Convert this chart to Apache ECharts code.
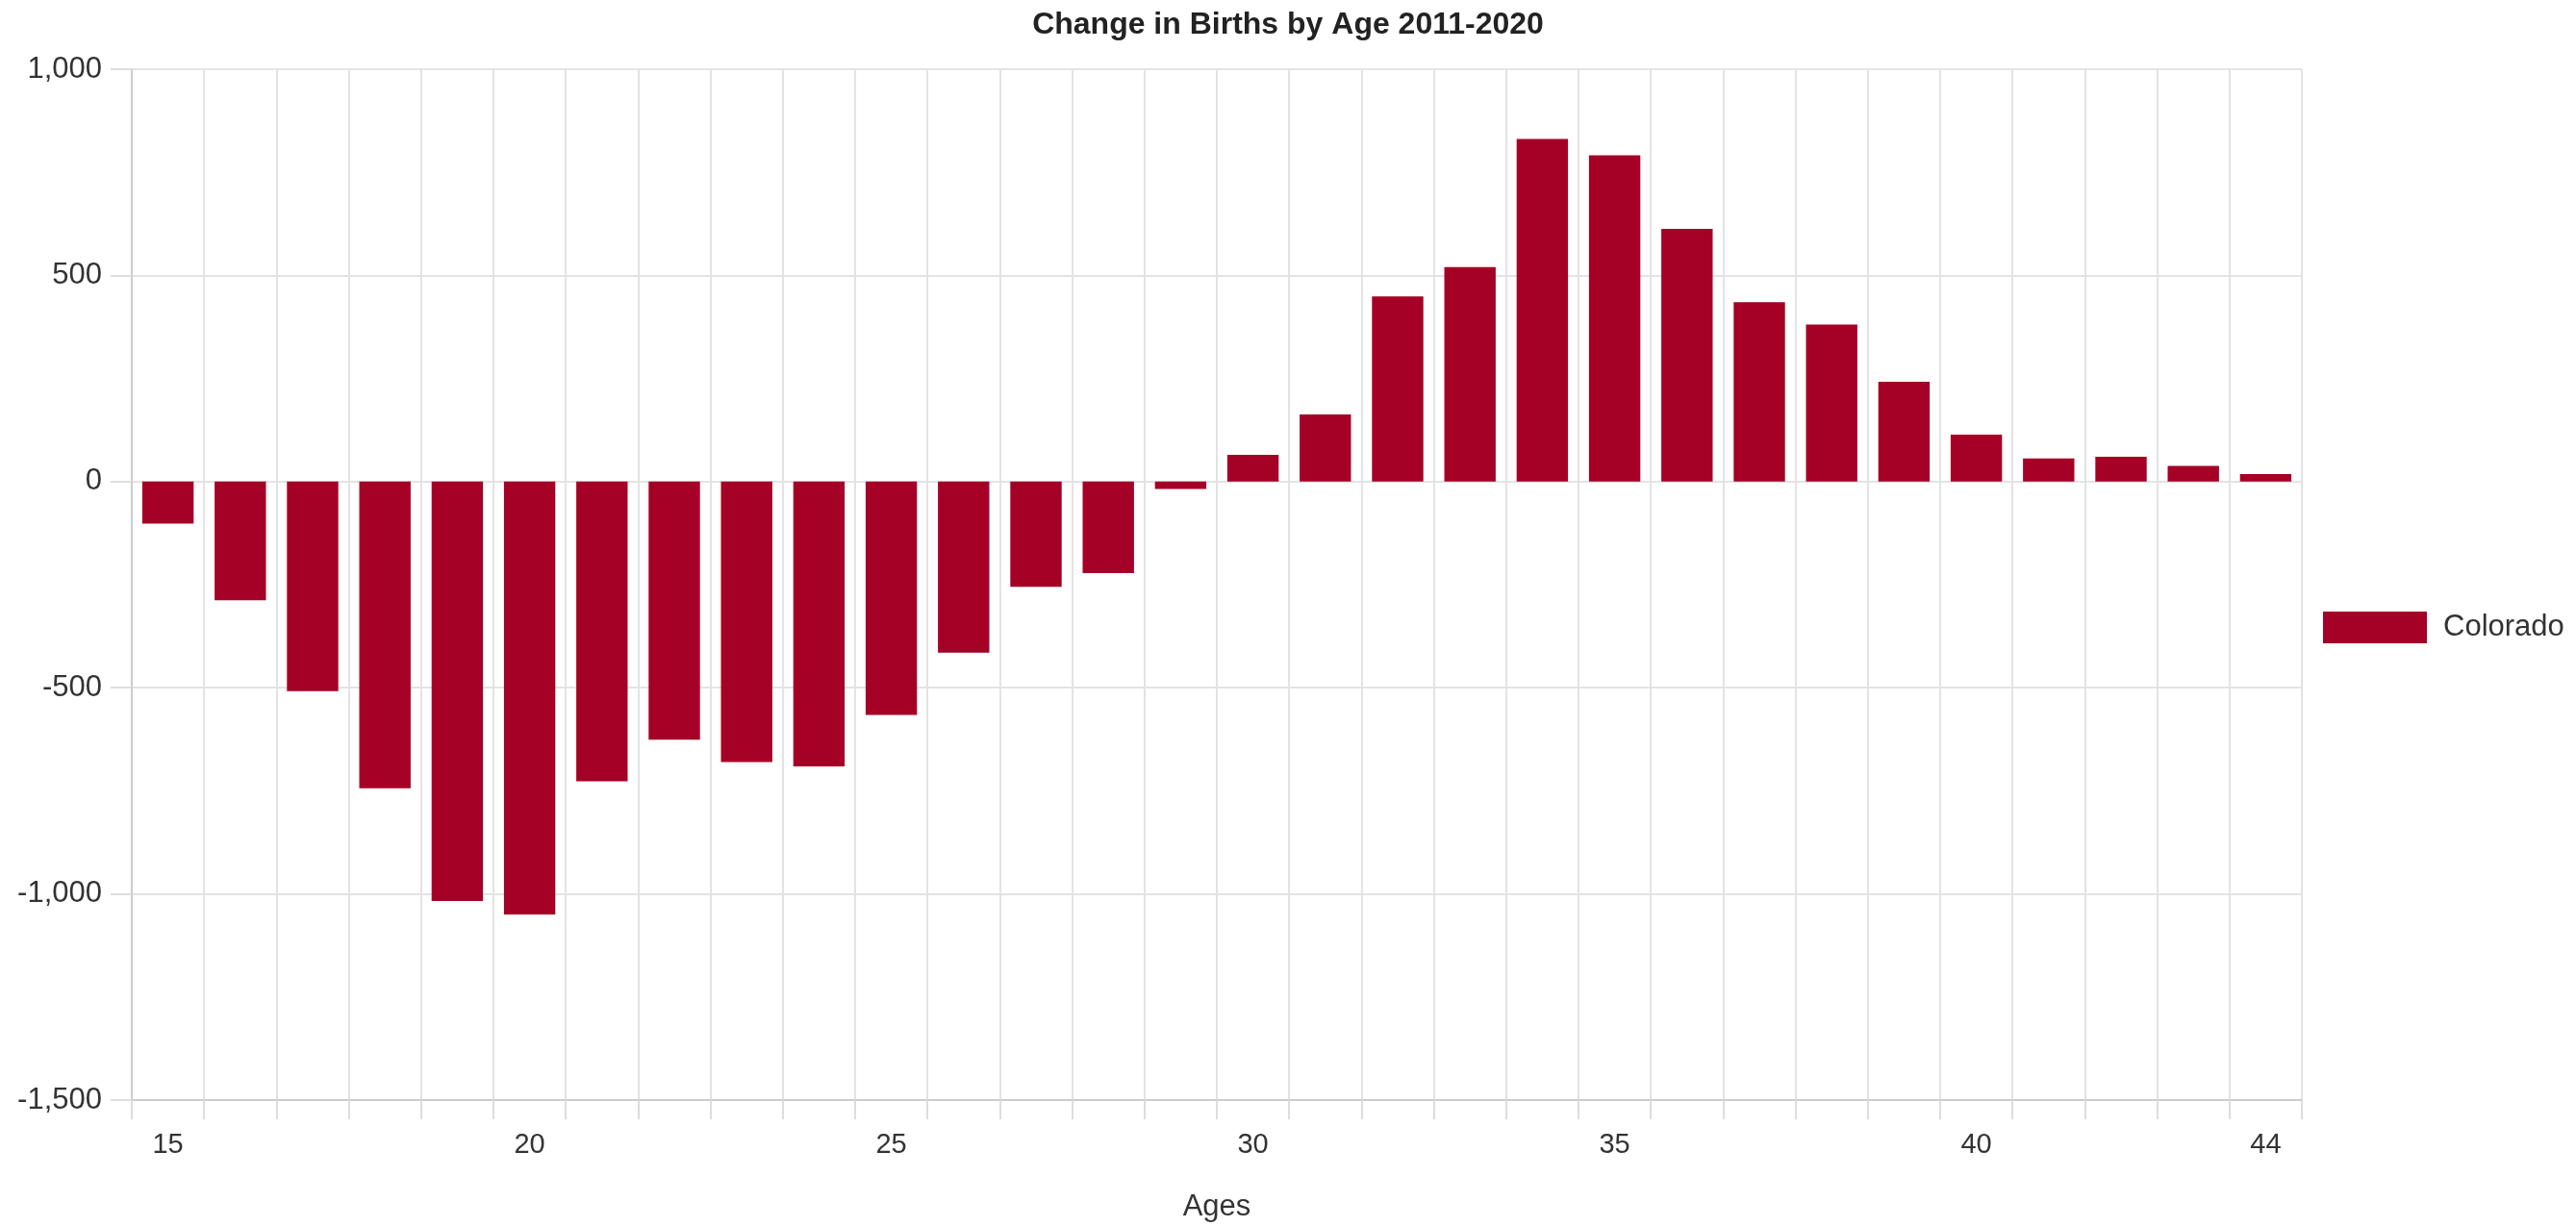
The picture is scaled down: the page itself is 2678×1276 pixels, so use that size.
<!DOCTYPE html>
<html>
<head>
<meta charset="utf-8">
<script src="https://cdn.jsdelivr.net/npm/echarts@6/dist/echarts.min.js"></script>
<style>
html,body{margin:0;padding:0;background:#fff;}
#chart{width:2678px;height:1276px;}
</style>
</head>
<body>
<div id="chart"></div>
<script>
const ages = ['15','16','17','18','19','20','21','22','23','24','25','26','27','28','29','30','31','32','33','34','35','36','37','38','39','40','41','42','43','44'];
const colorado = [-102,-288,-508,-744,-1017,-1050,-727,-626,-680,-691,-566,-415,-255,-222,-18,65,163,449,520,831,791,613,435,381,242,114,56,60,38,18];
const seriesName = 'Colorado';
const titleText = 'Change in Births by Age 2011-2020';
const xAxisName = 'Ages';

const fmt = v => String(v).replace(/\B(?=(\d{3})+(?!\d))/g, ',');
const FONT = '"Liberation Sans", Arial, sans-serif';

const chart = echarts.init(document.getElementById('chart'));
chart.setOption({
  animation: false,
  backgroundColor: '#ffffff',
  textStyle: { fontFamily: FONT },
  title: {
    text: titleText,
    left: 'center',
    top: 5,
    padding: [5, 0, 5, 20],
    textStyle: { fontFamily: FONT, fontSize: 32, fontWeight: 'bold', color: '#222222' }
  },
  legend: {
    data: [seriesName],
    left: 2410,
    top: 631,
    orient: 'vertical',
    itemWidth: 108,
    itemHeight: 33,
    icon: 'rect',
    textStyle: { fontFamily: FONT, fontSize: 31, color: '#333333', padding: [0, 0, 0, 12] }
  },
  grid: { left: 137, right: 285, top: 72, bottom: 120, containLabel: false },
  xAxis: {
    type: 'category',
    data: ages,
    boundaryGap: true,
    name: xAxisName,
    nameLocation: 'middle',
    nameGap: 96,
    nameTextStyle: { fontFamily: FONT, fontSize: 31, color: '#333333' },
    axisLine: { show: true, onZero: false, lineStyle: { color: '#cccccc', width: 2 } },
    axisTick: { show: true, length: 20, interval: 0, lineStyle: { color: '#dddddd', width: 2 } },
    splitLine: { show: true, interval: 0, lineStyle: { color: '#e3e3e3', width: 2 } },
    axisLabel: {
      interval: (i) => i % 5 === 0 || i === ages.length - 1,
      margin: 32,
      fontFamily: FONT, fontSize: 29, color: '#333333'
    }
  },
  yAxis: {
    type: 'value',
    min: -1500,
    max: 1000,
    interval: 500,
    axisLine: { show: true, lineStyle: { color: '#cccccc', width: 2 } },
    axisTick: { show: true, length: 22, lineStyle: { color: '#dddddd', width: 2 } },
    splitLine: { show: true, lineStyle: { color: '#e3e3e3', width: 2 } },
    axisLabel: { margin: 31, fontFamily: FONT, fontSize: 31, color: '#333333', formatter: fmt }
  },
  series: [{
    name: seriesName,
    type: 'bar',
    data: colorado,
    barWidth: '71%',
    itemStyle: { color: '#a50026' }
  }]
});
</script>
</body>
</html>
